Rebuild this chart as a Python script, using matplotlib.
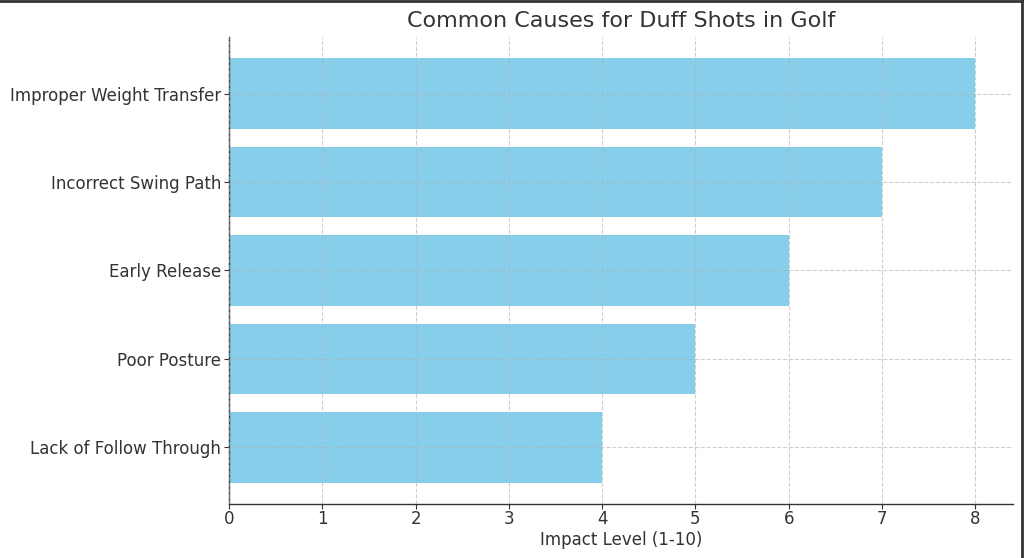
import matplotlib
matplotlib.use("Agg")
import matplotlib.pyplot as plt
from matplotlib.lines import Line2D

plt.rcParams["font.family"] = ["DejaVu Sans"]

causes = ["Improper Weight Transfer", "Incorrect Swing Path", "Early Release",
          "Poor Posture", "Lack of Follow Through"]
impact = [8, 7, 6, 5, 4]

fig = plt.figure(figsize=(10.24, 5.58), dpi=100)
ax = fig.add_axes([0.2236, 0.0968, 0.7654, 0.8369])

ax.barh(causes[::-1], impact[::-1], color="skyblue", height=0.8, zorder=1)
ax.set_xlim(0, 8.4)
ax.set_title("Common Causes for Duff Shots in Golf", fontsize=16, color="#333333", pad=7)
ax.set_xlabel("Impact Level (1-10)", fontsize=12, color="#333333", labelpad=2)
ax.tick_params(labelsize=12, colors="#333333")
ax.tick_params(axis="x", pad=1)
ax.tick_params(axis="y", pad=2)
ax.set_axisbelow(False)
ax.grid(True, linestyle="--", color="#b0b0b0", linewidth=0.8, alpha=0.6, zorder=3)
ax.spines["top"].set_visible(False)
ax.spines["right"].set_visible(False)
for s in ("left", "bottom"):
    ax.spines[s].set_color("#333333")
    ax.spines[s].set_linewidth(1.0)

# screenshot frame on top and right edges
fig.add_artist(Line2D([0, 1], [0.998, 0.998], transform=fig.transFigure, color="#333333", lw=2))
fig.add_artist(Line2D([0.9985, 0.9985], [0, 1], transform=fig.transFigure, color="#333333", lw=2))

fig.savefig("out.png", dpi=100)
